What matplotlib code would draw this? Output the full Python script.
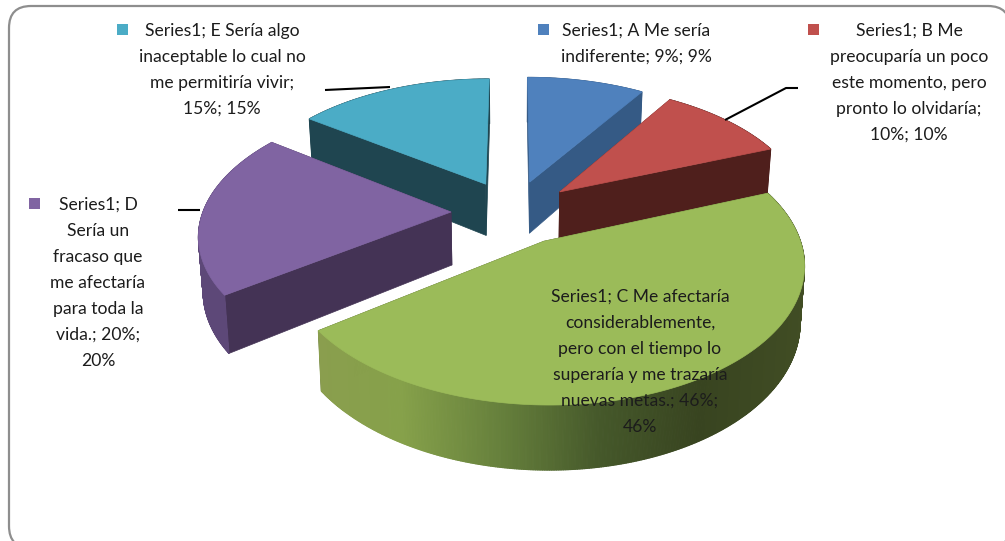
#!/usr/bin/env python3
"""Exploded 3D pie (Excel style) drawn with plain matplotlib polygons."""

import numpy as np
import matplotlib
matplotlib.use("Agg")
import matplotlib.pyplot as plt
from matplotlib.collections import PolyCollection
from matplotlib.colors import to_rgb
from matplotlib.patches import FancyBboxPatch, Polygon, Rectangle

plt.rcParams["font.family"] = ["Lato", "DejaVu Sans"]

# ── Data ─────────────────────────────────────────────────────────────────────
categories = ["A", "B", "C", "D", "E"]
values = [9, 10, 46, 20, 15]
top_colors = ["#4f81bd", "#c0504d", "#9bbb59", "#8064a2", "#4bacc6"]
cut_colors = ["#355a85", "#4f1f1c", "#3f4a22", "#443355", "#1f4550"]
rim_colors = ["#355a85", "#4f1f1c", "#3f4a22", "#5d4878", "#1f4550"]

label_lines = {
    "A": ["Series1; A Me sería", "indiferente; 9%; 9%"],
    "B": ["Series1; B Me", "preocuparía un poco", "este momento, pero",
          "pronto lo olvidaría;", "10%; 10%"],
    "C": ["Series1; C Me afectaría", "considerablemente,", "pero con el tiempo lo",
          "superaría y me trazaría", "nuevas metas.; 46%;", "46%"],
    "D": ["Series1; D", "Sería un", "fracaso que", "me afectaría",
          "para toda la", "vida.; 20%;", "20%"],
    "E": ["Series1; E Sería algo", "inaceptable lo cual no",
          "me permitiría vivir;", "15%; 15%"],
}
# centre x, first line y, key x
label_pos = {
    "A": (636, 31, 543),
    "B": (909, 31, 813),
    "C": (640, 297, None),
    "D": (98, 205, 34),
    "E": (222, 31, 122),
}
leaders = [
    ([325, 390], [90, 87]),
    ([725, 786, 798], [120, 88, 88]),
    ([178, 200], [210, 210]),
]

# ── Projection of the pie plane ──────────────────────────────────────────────
CX, CY = 513, 212
RX, RY = 248, 129
PERSP = 0.152
EXPLODE = 0.25
DEPTH = 53


def project(u, v, drop=False):
    s = 1 / (1 + PERSP * v)
    x = CX + RX * u * s
    y = CY - RY * v * s
    if drop:
        x = CX + (x - CX) * 0.985
        y = y + DEPTH * s
    return x, y


def green_rim(x):
    xs = [315, 400, 500, 600, 700, 805]
    stops = ["#8a9e4e", "#86a14a", "#66803c", "#45582a", "#384420", "#414d24"]
    rgb = np.array([to_rgb(c) for c in stops])
    return tuple(np.interp(x, xs, rgb[:, i]) for i in range(3))


fig = plt.figure(figsize=(10.05, 5.41), dpi=100)
ax = fig.add_axes([0, 0, 1, 1])
ax.set_xlim(0, 1005)
ax.set_ylim(541, 0)
ax.axis("off")

ax.add_patch(FancyBboxPatch((29, 26), 961, 502, boxstyle="round,pad=20,rounding_size=22",
                            fc="white", ec="#8e8e8e", lw=1.6, zorder=0))

# slice angles, clockwise from 12 o'clock
edges = np.radians(np.cumsum([0] + values) * 3.6)

# back to front
z = 1
for name in ["E", "A", "D", "B", "C"]:
    i = categories.index(name)
    a0, a1 = edges[i], edges[i + 1]
    mid = (a0 + a1) / 2
    ou, ov = EXPLODE * np.sin(mid), EXPLODE * np.cos(mid)
    ang = np.linspace(a0, a1, int(np.degrees(a1 - a0)) * 3 + 2)
    u = ou + np.sin(ang)
    v = ov + np.cos(ang)

    tx, ty = project(u, v)
    bx, by = project(u, v, drop=True)
    ax_, ay_ = project(ou, ov)
    bax, bay = project(ou, ov, drop=True)

    # cut faces
    for k in (0, -1):
        quad = [(ax_, ay_), (tx[k], ty[k]), (bx[k], by[k]), (bax, bay)]
        ax.add_patch(Polygon(quad, fc=cut_colors[i], ec=cut_colors[i], lw=0.5, zorder=z))

    # outer rim, one small quad per step so the shading can change along it
    quads = [[(tx[k], ty[k]), (tx[k + 1], ty[k + 1]), (bx[k + 1], by[k + 1]), (bx[k], by[k])]
             for k in range(len(ang) - 1)]
    if name == "C":
        cols = [green_rim((tx[k] + tx[k + 1]) / 2) for k in range(len(ang) - 1)]
    else:
        cols = [rim_colors[i]] * len(quads)
    ax.add_collection(PolyCollection(quads, facecolors=cols, edgecolors=cols,
                                     linewidths=0.8, zorder=z + 1))

    # top face
    top = np.column_stack([np.r_[ax_, tx], np.r_[ay_, ty]])
    ax.add_patch(Polygon(top, fc=top_colors[i], ec=top_colors[i], lw=0.5, zorder=z + 2))
    z += 3

for xs, ys in leaders:
    ax.plot(xs, ys, color="black", lw=1.5, zorder=z, solid_capstyle="butt")

for name, lines in label_lines.items():
    cx, y0, key_x = label_pos[name]
    for n, line in enumerate(lines):
        ax.text(cx, y0 + n * 26, line, ha="center", va="center", fontsize=12.6,
                color="#1c1c1c", zorder=z + 1)
    if key_x is not None:
        i = categories.index(name)
        ax.add_patch(Rectangle((key_x - 5, y0 - 7), 11, 11, fc=top_colors[i], ec="none", zorder=z))

fig.savefig("out.png", dpi=100)
